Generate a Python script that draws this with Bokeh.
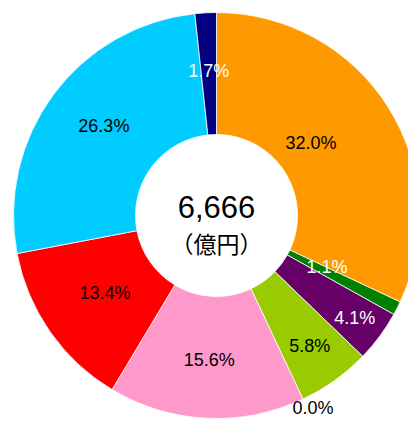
import math
from bokeh.plotting import figure
from bokeh.models import ColumnDataSource, Range1d
from bokeh.core.properties import value
from bokeh.embed import file_html
from bokeh.resources import INLINE

# data (clockwise from 12 o'clock)
shares = [32.0, 1.1, 4.1, 5.8, 0.0, 15.6, 13.4, 26.3, 1.7]
labels = ["32.0%", "1.1%", "4.1%", "5.8%", "0.0%", "15.6%", "13.4%", "26.3%", "1.7%"]
colors = ["#FF9900", "#008000", "#660066", "#99CC00", "#FFFFFF", "#FF99CC", "#FF0000", "#00CCFF", "#000080"]
label_colors = ["black", "white", "white", "black", "black", "black", "black", "black", "white"]
total_text = "6,666"
unit_text = "（億円）"

# style / layout
W, H = 408, 423
cx, cy = 216, H - 215
r_in, r_out = 81, 203
label_r = [119, 122, 172, 160, 215, 145, 136, 144, 145]
label_da = [5, 2, 0, 0, 1.5, 0, 0, -2, 0]

p = figure(width=W, height=H, output_backend="svg", toolbar_location=None,
           x_range=Range1d(0, W), y_range=Range1d(0, H), min_border=0)
p.axis.visible = False
p.grid.visible = False
p.outline_line_color = None
p.background_fill_color = "white"

tot = sum(shares)
starts, ends, cols = [], [], []
lx, ly = [], []
cum = 0.0
for s, c, lr, da in zip(shares, colors, label_r, label_da):
    a0 = math.pi / 2 - 2 * math.pi * cum / tot
    a1 = math.pi / 2 - 2 * math.pi * (cum + s) / tot
    if s > 0:
        starts.append(a0); ends.append(a1); cols.append(c)
    mid = (a0 + a1) / 2 + math.radians(da)
    lx.append(cx + lr * math.cos(mid))
    ly.append(cy + lr * math.sin(mid))
    cum += s

src = ColumnDataSource(dict(x=[cx] * len(starts), y=[cy] * len(starts),
                            s=starts, e=ends, c=cols))
p.annular_wedge(x="x", y="y", inner_radius=r_in, outer_radius=r_out,
                start_angle="s", end_angle="e", direction="clock",
                fill_color="c", line_color="white", line_width=0.8, source=src)

lsrc = ColumnDataSource(dict(x=lx, y=ly, t=labels, c=label_colors))
p.text(x="x", y="y", text="t", text_color="c", text_font=value("Liberation Sans"),
       text_font_size="18px", text_align="center", text_baseline="middle", source=lsrc)

p.text(x=[cx], y=[H - 206], text=[total_text], text_font=value("Liberation Sans"),
       text_font_size="31px", text_align="center", text_baseline="middle", text_color="black")
p.text(x=[cx], y=[H - 242], text=[unit_text], text_font=value("Noto Sans CJK JP"),
       text_font_size="23px", text_align="center", text_baseline="middle", text_color="black")

open("out.html", "w").write(file_html(p, INLINE))
